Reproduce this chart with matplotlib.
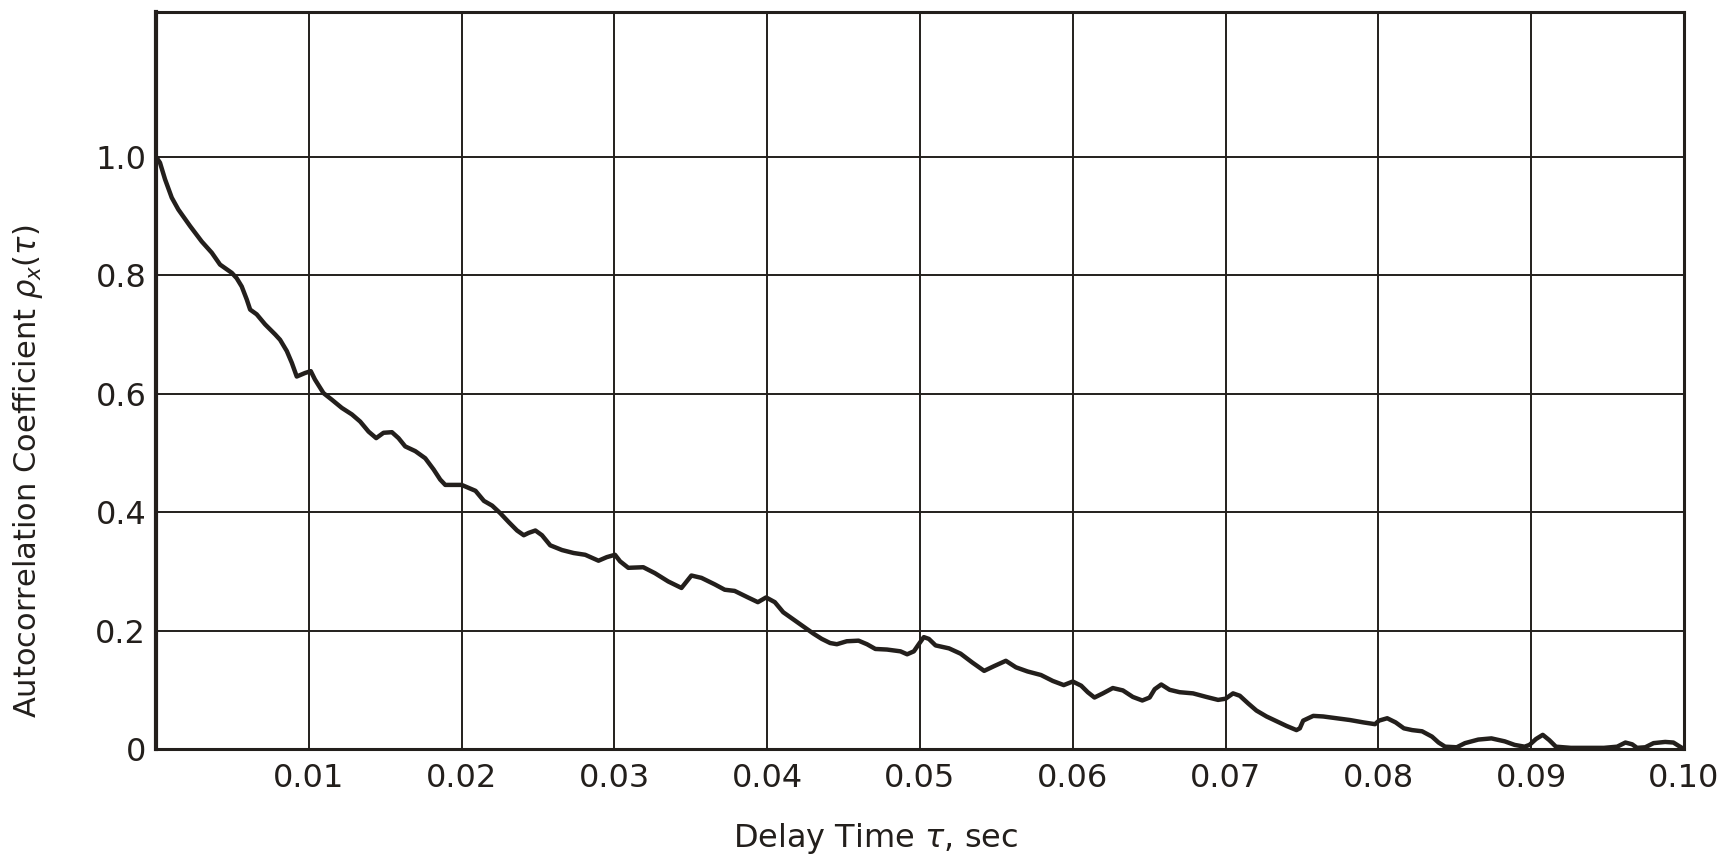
import matplotlib.pyplot as plt

# delay time (sec) and measured autocorrelation coefficient
tau = [0, 0.00026, 0.00059, 0.00103, 0.00146, 0.00223, 0.00299, 0.00365, 0.00419, 0.00496,
       0.00528, 0.00561, 0.00594, 0.00616, 0.00659, 0.00714, 0.0078, 0.00812, 0.00856, 0.00889,
       0.00921, 0.00976, 0.01013, 0.0104, 0.01096, 0.0115, 0.01216, 0.01282, 0.01336, 0.01391,
       0.01441, 0.01489, 0.01544, 0.01587, 0.01631, 0.01697, 0.01762, 0.01817, 0.0186, 0.01893,
       0.02, 0.02091, 0.02146, 0.022, 0.02254, 0.02309, 0.02363, 0.02407, 0.02439, 0.02483,
       0.02526, 0.0258, 0.02657, 0.02733, 0.02809, 0.02896, 0.0295, 0.03004, 0.03037, 0.03091,
       0.03189, 0.03265, 0.03352, 0.03439, 0.03504, 0.0357, 0.03657, 0.03722, 0.03787, 0.03874,
       0.03939, 0.03993, 0.0405, 0.04105, 0.04171, 0.04237, 0.04302, 0.04357, 0.04412, 0.04456,
       0.04521, 0.04598, 0.04653, 0.04708, 0.04784, 0.04872, 0.04916, 0.0496, 0.04992, 0.05025,
       0.05058, 0.05102, 0.0519, 0.05266, 0.05343, 0.0542, 0.05485, 0.05562, 0.05628, 0.05704,
       0.05792, 0.05869, 0.05941, 0.06, 0.06055, 0.06098, 0.06142, 0.06197, 0.06262, 0.06328,
       0.06393, 0.06455, 0.06503, 0.06536, 0.06579, 0.06634, 0.06699, 0.06787, 0.06874, 0.06951,
       0.07, 0.07049, 0.07093, 0.07148, 0.07202, 0.07268, 0.07333, 0.07399, 0.07464, 0.07486,
       0.07508, 0.07574, 0.07639, 0.07727, 0.07814, 0.07902, 0.07978, 0.08004, 0.08058, 0.08113,
       0.08167, 0.08221, 0.08286, 0.08351, 0.08394, 0.08437, 0.08513, 0.08567, 0.08654, 0.0874,
       0.08827, 0.08892, 0.08957, 0.08989, 0.09032, 0.09076, 0.09119, 0.09162, 0.0926, 0.09368,
       0.09476, 0.09563, 0.09617, 0.09661, 0.09693, 0.09747, 0.09801, 0.09877, 0.09931, 0.09974,
       0.1]
rho = [1.0, 0.99, 0.962, 0.931, 0.911, 0.883, 0.857, 0.838, 0.818, 0.804,
       0.795, 0.781, 0.759, 0.742, 0.734, 0.717, 0.700, 0.691, 0.672, 0.652,
       0.629, 0.635, 0.638, 0.624, 0.601, 0.590, 0.576, 0.565, 0.553, 0.536,
       0.525, 0.534, 0.535, 0.525, 0.511, 0.503, 0.491, 0.472, 0.455, 0.446,
       0.446, 0.436, 0.419, 0.411, 0.398, 0.383, 0.369, 0.361, 0.365, 0.369,
       0.361, 0.344, 0.336, 0.331, 0.328, 0.318, 0.324, 0.328, 0.317, 0.306,
       0.307, 0.297, 0.283, 0.272, 0.293, 0.289, 0.278, 0.269, 0.267, 0.256,
       0.248, 0.256, 0.248, 0.231, 0.219, 0.207, 0.195, 0.186, 0.179, 0.177,
       0.182, 0.183, 0.177, 0.169, 0.168, 0.165, 0.160, 0.165, 0.177, 0.189,
       0.186, 0.175, 0.170, 0.161, 0.146, 0.132, 0.140, 0.149, 0.138, 0.131,
       0.125, 0.115, 0.108, 0.114, 0.107, 0.096, 0.087, 0.094, 0.103, 0.099,
       0.088, 0.082, 0.087, 0.101, 0.109, 0.100, 0.096, 0.094, 0.088, 0.083,
       0.085, 0.094, 0.090, 0.077, 0.065, 0.055, 0.047, 0.039, 0.032, 0.035,
       0.048, 0.056, 0.055, 0.052, 0.049, 0.045, 0.042, 0.048, 0.052, 0.045,
       0.035, 0.032, 0.030, 0.021, 0.011, 0.004, 0.003, 0.010, 0.016, 0.018,
       0.013, 0.007, 0.004, 0.007, 0.017, 0.024, 0.015, 0.004, 0.002, 0.002,
       0.002, 0.004, 0.011, 0.008, 0.002, 0.003, 0.010, 0.012, 0.011, 0.004,
       0.0]

x_ticks = [0.01, 0.02, 0.03, 0.04, 0.05, 0.06, 0.07, 0.08, 0.09, 0.10]
x_labels = ['0.01', '0.02', '0.03', '0.04', '0.05', '0.06', '0.07', '0.08', '0.09', '0.10']
y_ticks = [0, 0.2, 0.4, 0.6, 0.8, 1.0]
y_labels = ['0', '0.2', '0.4', '0.6', '0.8', '1.0']

ink = '#231f1c'

plt.rcParams['font.family'] = ['DejaVu Sans']
plt.rcParams['mathtext.fontset'] = 'dejavusans'

fig = plt.figure(figsize=(17.22, 8.59), dpi=100)
fig.patch.set_facecolor('white')
ax = fig.add_axes([0.0906, 0.128, 0.8873, 0.8584])

ax.plot(tau, rho, color=ink, lw=3.2, solid_joinstyle='round', solid_capstyle='round', zorder=3)

ax.set_xlim(0, 0.10)
ax.set_ylim(0, 1.245)
ax.set_xticks(x_ticks)
ax.set_xticklabels(x_labels)
ax.set_yticks(y_ticks)
ax.set_yticklabels(y_labels)
ax.tick_params(axis='both', length=0, labelsize=23, colors=ink)
ax.tick_params(axis='x', pad=10)
ax.tick_params(axis='y', pad=7)

ax.grid(True, color=ink, lw=1.4)
ax.set_axisbelow(True)
for side in ['top', 'right', 'bottom']:
    ax.spines[side].set_linewidth(2.2)
    ax.spines[side].set_color(ink)
ax.spines['left'].set_linewidth(3.0)
ax.spines['left'].set_color(ink)

# axis titles sit slightly off the axes centre
fig.text(0.5087, 0.0244, r'Delay Time $\tau$, sec', fontsize=23, color=ink,
         ha='center', va='center')
fig.text(0.016, 0.4517, r'Autocorrelation Coefficient $\rho_x(\tau)$', fontsize=22,
         color=ink, rotation=90, ha='center', va='center')

fig.savefig('out.png', dpi=100, facecolor='white')
